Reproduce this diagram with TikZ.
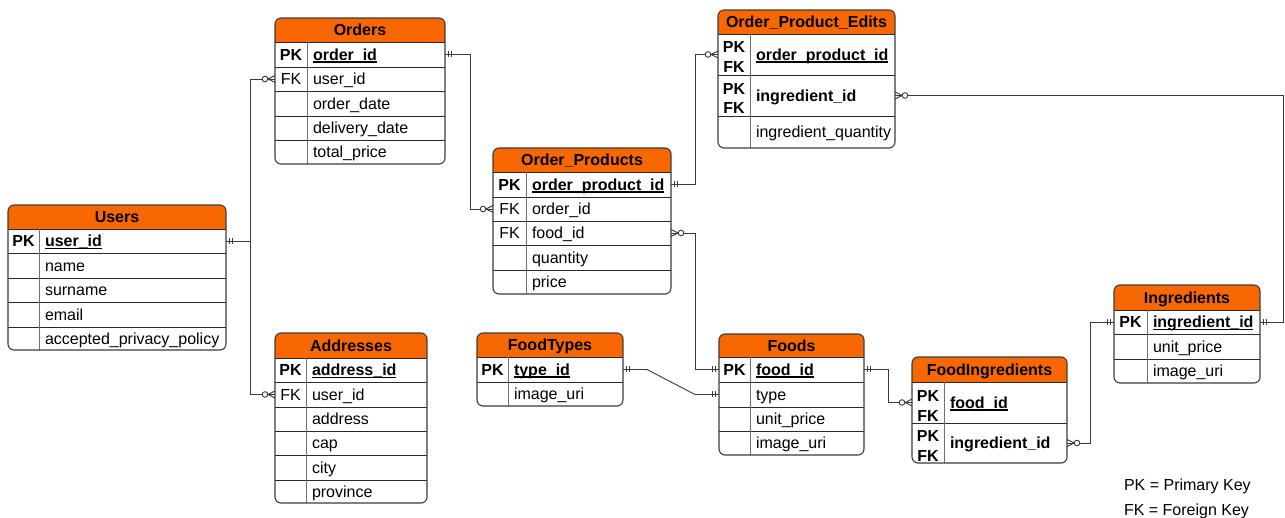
\documentclass[tikz,border=0pt]{standalone}
\usepackage{fontspec}
\setmainfont{Liberation Sans}
\usetikzlibrary{calc}

\definecolor{hdr}{HTML}{F96800}
\definecolor{edgecol}{HTML}{3C3C3C}
\definecolor{rulecol}{HTML}{2A2A2A}
\definecolor{keycol}{HTML}{707070}
\definecolor{wirecol}{HTML}{3A3A3A}

\newcommand\erfont{\fontsize{16pt}{20pt}\selectfont}
% bold, underlined primary key field
\newcommand\pkfield[1]{\setbox0\hbox{\bfseries #1}\rlap{\rule[-2.3pt]{\wd0}{1.3pt}}\box0}

\tikzset{
  cell/.style={inner sep=0pt, outer sep=0pt, font=\erfont, text=black},
  titlecell/.style={cell, font=\erfont\bfseries, text height=11.5pt, text depth=0pt},
  keycell/.style={cell, align=center, text height=11.5pt, text depth=0pt},
  key2cell/.style={cell, align=center, font=\erfont\bfseries, yshift=-3pt},
  fieldcell/.style={cell, inner xsep=6pt, align=left, text height=11.5pt, text depth=0pt},
  rowline/.style={draw=rulecol, line width=0.9pt},
  keyline/.style={draw=keycol, line width=0.9pt},
  outline/.style={draw=edgecol, line width=1.1pt},
  wire/.style={draw=wirecol, line width=0.9pt},
  one/.pic={\draw[wire] (-3.5,-3) -- (-3.5,3) (-6.5,-3) -- (-6.5,3);},
  zmany/.pic={\draw[wire] (0,-3.5) -- (-7,0) -- (0,3.5);
              \draw[wire, fill=white] (-10,0) circle (2.8pt);},
}

% table frame: name, x1, ytop, x2, yhead, ybottom, title
\newcommand\erframe[7]{%
  \begin{scope}
    \clip[rounded corners=6] (#2,#3) rectangle (#4,#6);
    \fill[white] (#2,#3) rectangle (#4,#6);
    \fill[hdr] (#2,#3) rectangle (#4,#5);
  \end{scope}
  \node[titlecell] (#1) at ({(#2+#4)/2},{(#3+#5)/2}) {#7};
}
% table row: name, x1, sep, x2, ytop, ybottom, key, field, key style
\newcommand\errow[9]{%
  \pgfmathsetmacro\kw{#3-#2}%
  \pgfmathsetmacro\fw{#4-#3-12}%
  \pgfmathsetmacro\rh{#6-#5}%
  \node[#9, minimum width=\kw pt, minimum height=\rh pt] (#1k) at ({(#2+#3)/2},{(#5+#6)/2}) {#7};
  \node[fieldcell, text width=\fw pt, minimum height=\rh pt] (#1) at ({(#3+#4)/2},{(#5+#6)/2}) {\mbox{#8}};
  \draw[rowline] (#2,#5) -- (#4,#5);
}
% key column rule and outer border: x1, ytop, x2, yhead, ybottom, sep
\newcommand\erclose[6]{%
  \draw[keyline] (#6,#4) -- (#6,#5);
  \draw[outline, rounded corners=6] (#1,#2) rectangle (#3,#5);
}

\begin{document}
\begin{tikzpicture}[x=1pt, y=-1pt]
\fill[white] (0,0) rectangle (1285,518);
\useasboundingbox (0,0) rectangle (1285,518);

% Users
\erframe{users}{8}{205}{226}{229}{350}{Users}
\errow{users-uid}{8}{39}{226}{229}{253}{\textbf{PK}}{\pkfield{user\_id}}{keycell}
\errow{users-name}{8}{39}{226}{253}{278}{}{name}{keycell}
\errow{users-sur}{8}{39}{226}{278}{302}{}{surname}{keycell}
\errow{users-mail}{8}{39}{226}{302}{327}{}{email}{keycell}
\errow{users-app}{8}{39}{226}{327}{350}{}{accepted\_privacy\_policy}{keycell}
\erclose{8}{205}{226}{229}{350}{39}

% Orders
\erframe{orders}{275}{18}{445}{42}{164}{Orders}
\errow{orders-oid}{275}{307}{445}{42}{67}{\textbf{PK}}{\pkfield{order\_id}}{keycell}
\errow{orders-uid}{275}{307}{445}{67}{91}{FK}{user\_id}{keycell}
\errow{orders-od}{275}{307}{445}{91}{116}{}{order\_date}{keycell}
\errow{orders-dd}{275}{307}{445}{116}{140}{}{delivery\_date}{keycell}
\errow{orders-tp}{275}{307}{445}{140}{164}{}{total\_price}{keycell}
\erclose{275}{18}{445}{42}{164}{307}

% Addresses
\erframe{addr}{275}{333}{427}{358}{503}{Addresses}
\errow{addr-aid}{275}{306}{427}{358}{382}{\textbf{PK}}{\pkfield{address\_id}}{keycell}
\errow{addr-uid}{275}{306}{427}{382}{407}{FK}{user\_id}{keycell}
\errow{addr-addr}{275}{306}{427}{407}{431}{}{address}{keycell}
\errow{addr-cap}{275}{306}{427}{431}{455}{}{cap}{keycell}
\errow{addr-city}{275}{306}{427}{455}{480}{}{city}{keycell}
\errow{addr-prov}{275}{306}{427}{480}{503}{}{province}{keycell}
\erclose{275}{333}{427}{358}{503}{306}

% Order_Products
\erframe{op}{493}{148}{671}{172}{294}{Order\_Products}
\errow{op-opid}{493}{526}{671}{172}{197}{\textbf{PK}}{\pkfield{order\_product\_id}}{keycell}
\errow{op-oid}{493}{526}{671}{197}{221}{FK}{order\_id}{keycell}
\errow{op-fid}{493}{526}{671}{221}{245}{FK}{food\_id}{keycell}
\errow{op-qty}{493}{526}{671}{245}{270}{}{quantity}{keycell}
\errow{op-price}{493}{526}{671}{270}{294}{}{price}{keycell}
\erclose{493}{148}{671}{172}{294}{526}

% Order_Product_Edits
\erframe{ope}{718}{10}{895}{34}{148}{Order\_Product\_Edits}
\errow{ope-opid}{718}{750}{895}{34}{75}{PK\\FK}{\pkfield{order\_product\_id}}{key2cell}
\errow{ope-iid}{718}{750}{895}{75}{116}{PK\\FK}{\textbf{ingredient\_id}}{key2cell}
\errow{ope-iq}{718}{750}{895}{116}{148}{}{ingredient\_quantity}{keycell}
\erclose{718}{10}{895}{34}{148}{750}

% FoodTypes
\erframe{ft}{477}{333}{623}{357}{406}{FoodTypes}
\errow{ft-tid}{477}{508}{623}{357}{382}{\textbf{PK}}{\pkfield{type\_id}}{keycell}
\errow{ft-img}{477}{508}{623}{382}{406}{}{image\_uri}{keycell}
\erclose{477}{333}{623}{357}{406}{508}

% Foods
\erframe{foods}{719}{334}{864}{357}{455}{Foods}
\errow{foods-fid}{719}{750}{864}{357}{382}{\textbf{PK}}{\pkfield{food\_id}}{keycell}
\errow{foods-type}{719}{750}{864}{382}{407}{}{type}{keycell}
\errow{foods-up}{719}{750}{864}{407}{431}{}{unit\_price}{keycell}
\errow{foods-img}{719}{750}{864}{431}{455}{}{image\_uri}{keycell}
\erclose{719}{334}{864}{357}{455}{750}

% FoodIngredients
\erframe{fi}{912}{357}{1067}{382}{463}{FoodIngredients}
\errow{fi-fid}{912}{944}{1067}{382}{423}{PK\\FK}{\pkfield{food\_id}}{key2cell}
\errow{fi-iid}{912}{944}{1067}{423}{463}{PK\\FK}{\textbf{ingredient\_id}}{key2cell}
\erclose{912}{357}{1067}{382}{463}{944}

% Ingredients
\erframe{ing}{1114}{285}{1260}{310}{383}{Ingredients}
\errow{ing-iid}{1114}{1147}{1260}{310}{334}{\textbf{PK}}{\pkfield{ingredient\_id}}{keycell}
\errow{ing-up}{1114}{1147}{1260}{334}{359}{}{unit\_price}{keycell}
\errow{ing-img}{1114}{1147}{1260}{359}{383}{}{image\_uri}{keycell}
\erclose{1114}{285}{1260}{310}{383}{1147}

% relationships (two-line key cells are lowered, so take the row height from the field cell)
\draw[wire] (users-uid.east) -- ++(24,0) |- (orders-uidk.west);
\draw[wire] (users-uid.east) -- ++(24,0) |- (addr-uidk.west);
\draw[wire] (orders-oid.east) -- ++(25,0) |- (op-oidk.west);
\draw[wire] (op-opid.east) -- ++(24,0) |- (ope-opidk.west |- ope-opid.west);
\draw[wire] (op-fid.east) -- ++(24,0) |- (foods-fidk.west);
\draw[wire] (ft-tid.east) -- ++(24,0) -- ($(foods-typek.west)+(-24,0)$) -- (foods-typek.west);
\draw[wire] (foods-fid.east) -- ++(24,0) |- (fi-fidk.west |- fi-fid.west);
\draw[wire] (fi-iid.east) -- ++(23,0) |- (ing-iidk.west);
\draw[wire] (ope-iid.east) -- ++(388,0) |- (ing-iid.east);

% cardinality marks
\pic[rotate=180] at (users-uid.east) {one};
\pic at (orders-uidk.west) {zmany};
\pic at (addr-uidk.west) {zmany};
\pic[rotate=180] at (orders-oid.east) {one};
\pic at (op-oidk.west) {zmany};
\pic[rotate=180] at (op-opid.east) {one};
\pic at (ope-opidk.west |- ope-opid.west) {zmany};
\pic[rotate=180] at (op-fid.east) {zmany};
\pic at (foods-fidk.west) {one};
\pic[rotate=180] at (ft-tid.east) {one};
\pic at (foods-typek.west) {one};
\pic[rotate=180] at (foods-fid.east) {one};
\pic at (fi-fidk.west |- fi-fid.west) {zmany};
\pic[rotate=180] at (fi-iid.east) {zmany};
\pic at (ing-iidk.west) {one};
\pic[rotate=180] at (ope-iid.east) {zmany};
\pic[rotate=180] at (ing-iid.east) {one};

% legend
\node[cell, anchor=west, text height=11.5pt, text depth=0pt] (legpk) at (1124,484.5) {PK = Primary Key};
\node[cell, anchor=west, text height=11.5pt, text depth=0pt] (legfk) at (1124,509.5) {FK = Foreign Key};
\end{tikzpicture}
\end{document}
